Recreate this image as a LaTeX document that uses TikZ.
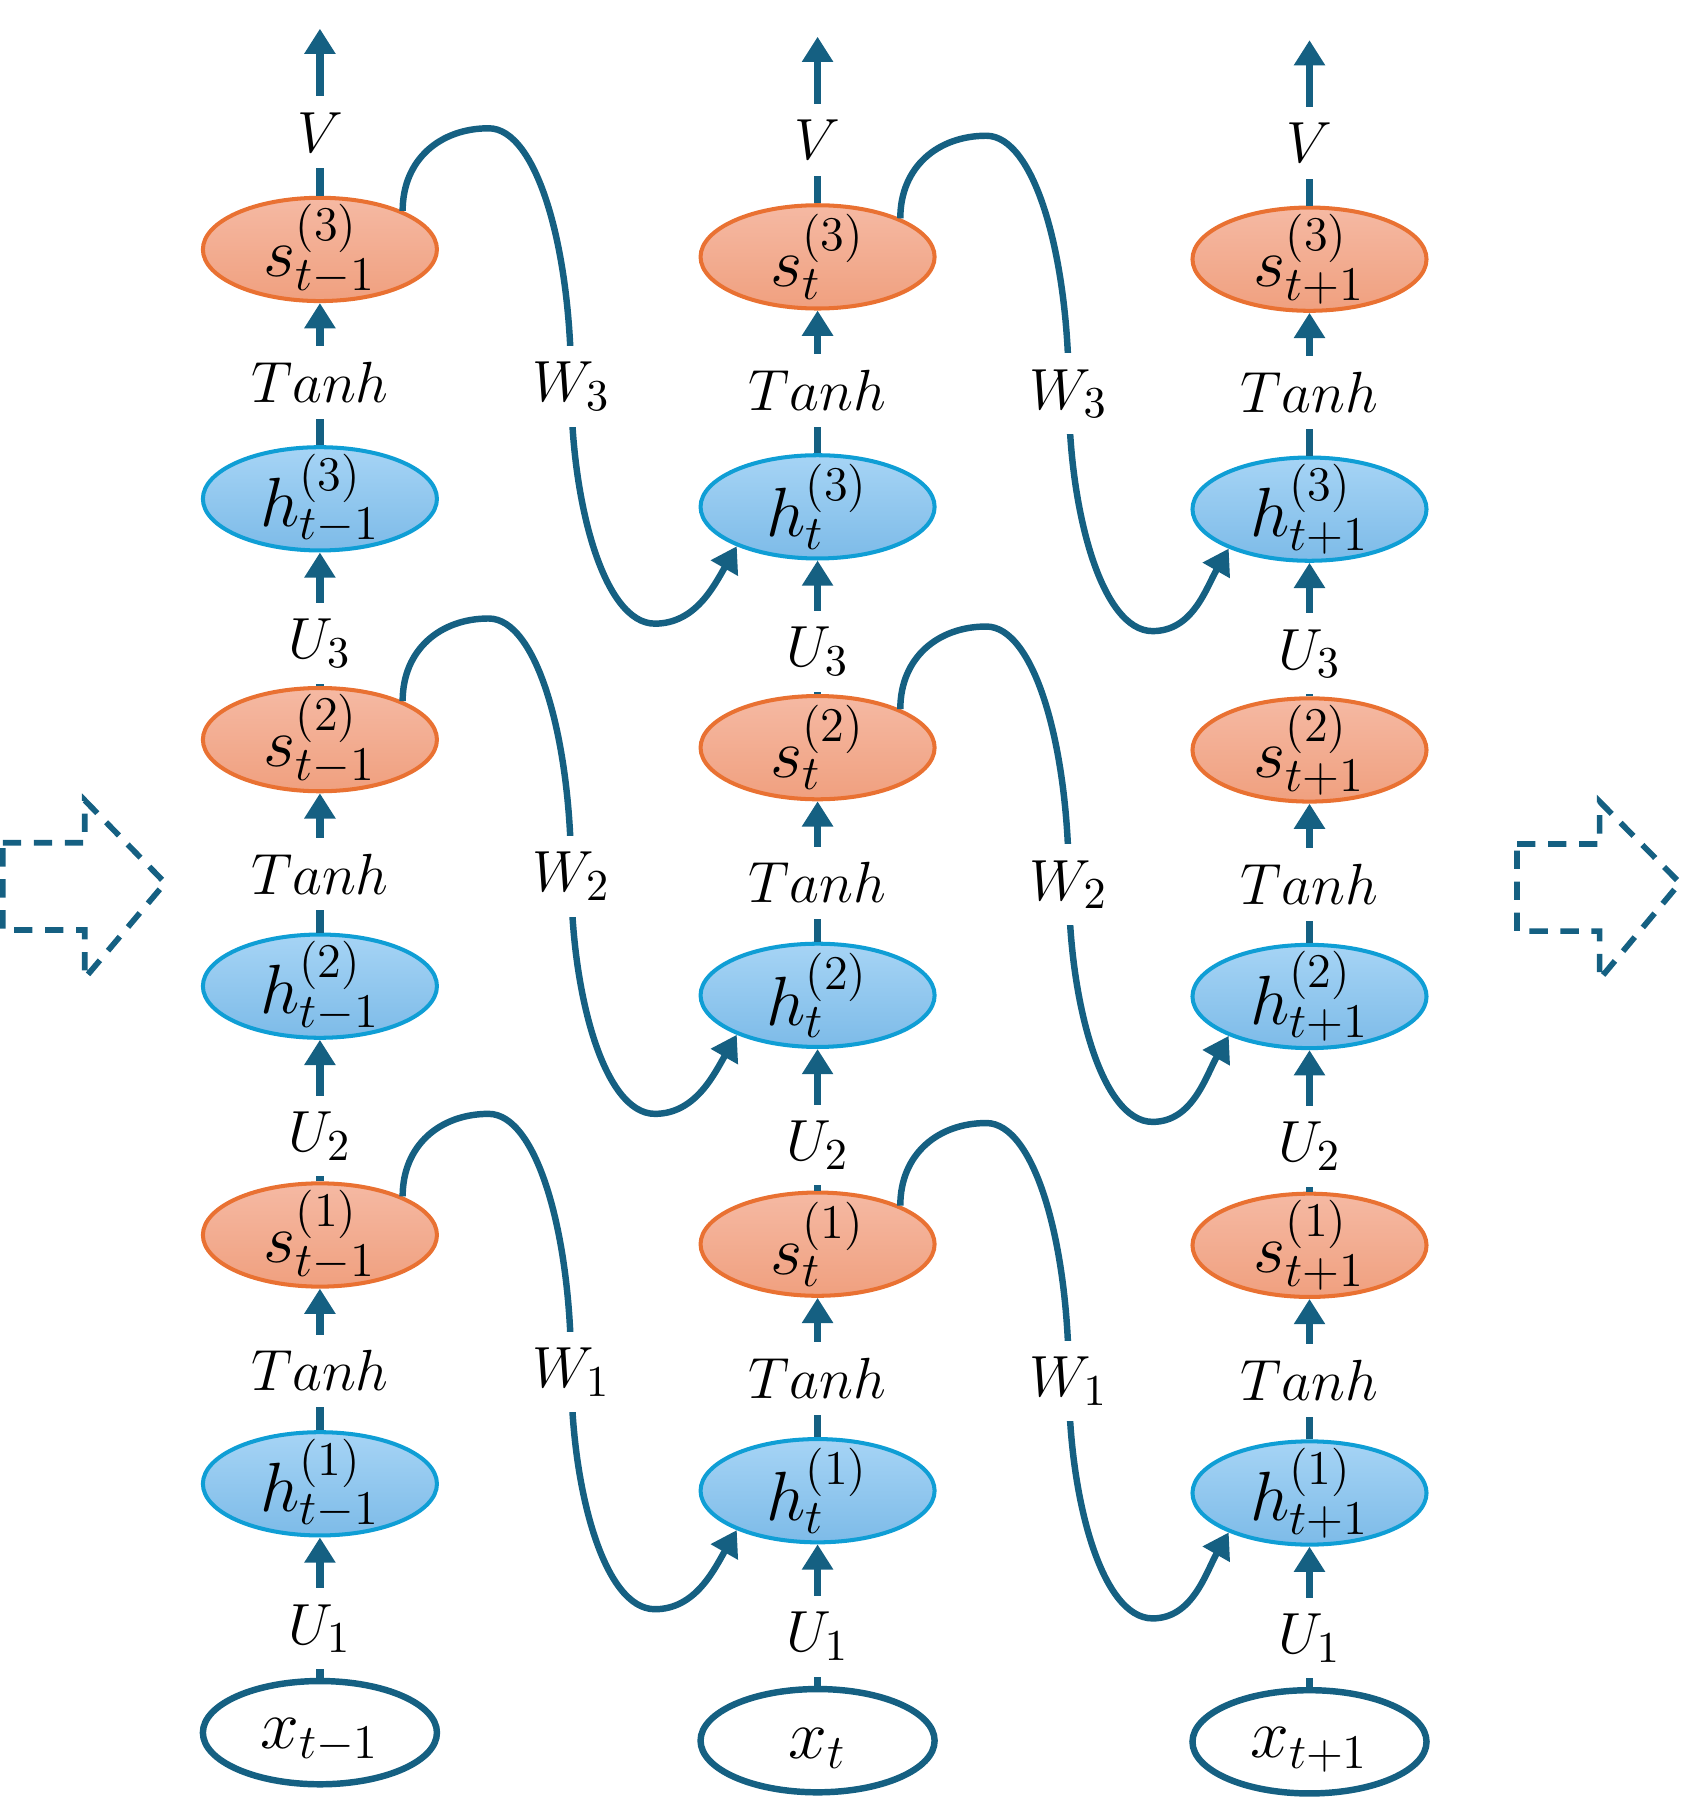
\documentclass[tikz,border=0pt]{standalone}
\usetikzlibrary{arrows.meta,shapes.geometric,calc}
\definecolor{cblue}{HTML}{156082}
\definecolor{orB}{HTML}{E97132}
\definecolor{orT}{HTML}{F5B9A3}
\definecolor{orD}{HTML}{F0A07F}
\definecolor{blB}{HTML}{0F9ED5}
\definecolor{blT}{HTML}{A6D4F5}
\definecolor{blD}{HTML}{7DBBE8}
\newcommand\vlink[4]{\draw[vconn,arr] (#1) -- node[lab,pos=#4]{$#3$} (#2);}
\newcommand\wcurve[4]{%
  \path (#1.25) coordinate (#4s) ++(75,-72) coordinate (#4p) ++(72,225) coordinate (#4l) ++(73,207) coordinate (#4b);
  \draw[wconn,arr] (#4s) .. controls +(0,-45) and +(-42,0) .. (#4p)
     .. controls +(42,0) and +(0,-120) .. (#4l) node[lab]{$#3$}
     .. controls +(0,100) and +(-45,0) .. (#4b)
     .. controls +(35,0) and +(-20,35) .. (#2.206);}
\begin{document}
\begin{tikzpicture}[x=0.01cm,y=-0.01cm,
  every node/.style={font=\fontsize{15.5}{18}\selectfont},
  ell/.style={ellipse,minimum width=2.04cm,minimum height=0.9cm,inner sep=0pt,line width=1pt},
  snode/.style={ell,draw=orB,top color=orT,bottom color=orD},
  hnode/.style={ell,draw=blB,top color=blT,bottom color=blD},
  xnode/.style={ell,draw=cblue,fill=white,line width=1.6pt},
  mlab/.style={inner sep=0pt,font=\fontsize{17.5}{20}\selectfont},
  xlab/.style={mlab,yshift=-0.07cm},
  vconn/.style={draw=cblue,line width=1.85pt},
  wconn/.style={draw=cblue,line width=1.6pt},
  arr/.style={-{Triangle[length=0.22cm,width=0.26cm]}},
  lab/.style={fill=white,inner xsep=1pt,inner ysep=0.14cm},
  dasharrow/.style={draw=cblue,line width=1.42pt,dash pattern=on 0.16cm off 0.11cm}]
\useasboundingbox (0,0) rectangle (1470,1568);
% column 1
\coordinate (top1) at (279,25);
\node[snode,label={[mlab]center:$s^{(3)}_{t-1}$}] (s3a) at (279,217.5) {};
\node[hnode,label={[mlab]center:$h^{(3)}_{t-1}$}] (h3a) at (279,435) {};
\node[snode,label={[mlab]center:$s^{(2)}_{t-1}$}] (s2a) at (279,645) {};
\node[hnode,label={[mlab]center:$h^{(2)}_{t-1}$}] (h2a) at (279,860) {};
\node[snode,label={[mlab]center:$s^{(1)}_{t-1}$}] (s1a) at (279,1077) {};
\node[hnode,label={[mlab]center:$h^{(1)}_{t-1}$}] (h1a) at (279,1294) {};
\node[xnode,label={[xlab]center:$x_{t-1}$}] (xa) at (279,1511) {};
% column 2
\coordinate (top2) at (713,32);
\node[snode,label={[mlab]center:$s^{(3)}_{t}$}] (s3b) at (713,224) {};
\node[hnode,label={[mlab]center:$h^{(3)}_{t}$}] (h3b) at (713,442) {};
\node[snode,label={[mlab]center:$s^{(2)}_{t}$}] (s2b) at (713,652) {};
\node[hnode,label={[mlab]center:$h^{(2)}_{t}$}] (h2b) at (713,868) {};
\node[snode,label={[mlab]center:$s^{(1)}_{t}$}] (s1b) at (713,1085) {};
\node[hnode,label={[mlab]center:$h^{(1)}_{t}$}] (h1b) at (713,1300) {};
\node[xnode,label={[xlab]center:$x_{t}$}] (xb) at (713,1518) {};
% column 3
\coordinate (top3) at (1142,35);
\node[snode,label={[mlab]center:$s^{(3)}_{t+1}$}] (s3c) at (1142,226) {};
\node[hnode,label={[mlab]center:$h^{(3)}_{t+1}$}] (h3c) at (1142,444) {};
\node[snode,label={[mlab]center:$s^{(2)}_{t+1}$}] (s2c) at (1142,654) {};
\node[hnode,label={[mlab]center:$h^{(2)}_{t+1}$}] (h2c) at (1142,869) {};
\node[snode,label={[mlab]center:$s^{(1)}_{t+1}$}] (s1c) at (1142,1086) {};
\node[hnode,label={[mlab]center:$h^{(1)}_{t+1}$}] (h1c) at (1142,1302) {};
\node[xnode,label={[xlab]center:$x_{t+1}$}] (xc) at (1142,1519) {};
% vertical links
\foreach \c in {a,b,c}{
  \vlink{x\c}{h1\c}{U_1}{0.35}
  \vlink{h1\c}{s1\c}{Tanh}{0.42}
  \vlink{s1\c}{h2\c}{U_2}{0.32}
  \vlink{h2\c}{s2\c}{Tanh}{0.42}
  \vlink{s2\c}{h3\c}{U_3}{0.32}
  \vlink{h3\c}{s3\c}{Tanh}{0.44}
}
\vlink{s3a}{top1}{V}{0.38}
\vlink{s3b}{top2}{V}{0.38}
\vlink{s3c}{top3}{V}{0.38}
% recurrent links
\wcurve{s3a}{h3b}{W_3}{wa}
\wcurve{s2a}{h2b}{W_2}{wb}
\wcurve{s1a}{h1b}{W_1}{wc}
\wcurve{s3b}{h3c}{W_3}{wd}
\wcurve{s2b}{h2c}{W_2}{we}
\wcurve{s1b}{h1c}{W_1}{wf}
% dashed arrows
\draw[dasharrow] (2.5,735) -- (74,735) -- (74,698) -- (144,770) -- (74,853) -- (74,811) -- (2.5,811) -- cycle;
\draw[dasharrow] (1323,736) -- (1395,736) -- (1395,699) -- (1465,770) -- (1395,854) -- (1395,812) -- (1323,812) -- cycle;
\end{tikzpicture}
\end{document}
